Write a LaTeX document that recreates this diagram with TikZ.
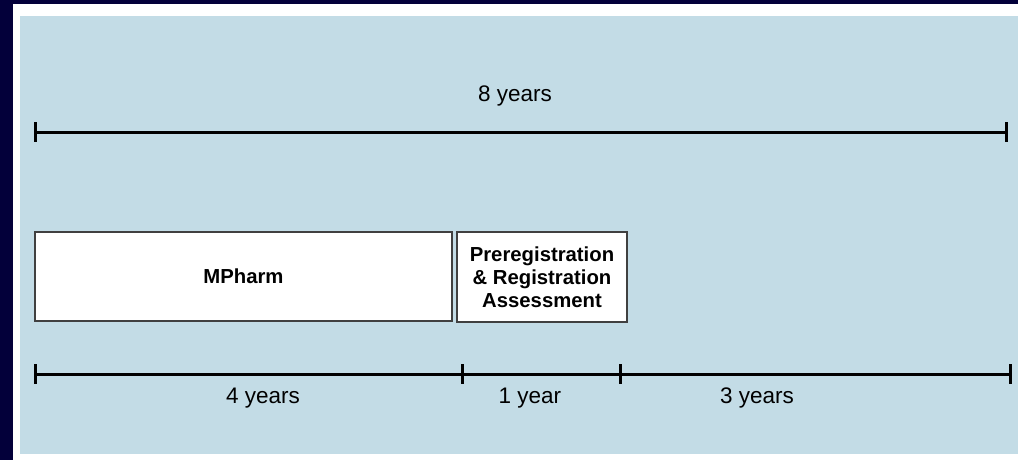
\documentclass[tikz,border=0pt]{standalone}
\usepackage{fontspec}
\setmainfont{Liberation Sans}
\definecolor{navy}{HTML}{03003A}
\definecolor{panel}{HTML}{C3DCE6}
\definecolor{boxline}{HTML}{404040}
\tikzset{
  stagebox/.style={draw=boxline, line width=1.2pt, fill=white, inner sep=0pt, align=center,
    font=\bfseries\fontsize{20.3}{23}\selectfont},
  yearlabel/.style={font=\fontsize{22.5}{25}\selectfont, inner sep=0pt},
  timeline/.style={line width=3pt, black},
}
\begin{document}
\begin{tikzpicture}[x=1pt,y=-1pt]
\useasboundingbox (0,0) rectangle (1018,460);
\fill[navy] (0,0) rectangle (1018,460);
\fill[white] (13,4) rectangle (1018,460);
\fill[panel] (20,16) rectangle (1018,454);

% top timeline
\coordinate (t0) at (35,132);
\coordinate (t1) at (1006,132);
\draw[timeline] (t0) -- (t1);
\foreach \c in {t0,t1} \draw[timeline] ([yshift=10pt]\c) -- ([yshift=-10pt]\c);
\node[yearlabel] (l8) at (515,96) {8 years};

% boxes
\node[stagebox, minimum width=417pt, minimum height=89pt] (mpharm) at (243.5,276.5) {MPharm};
\node[stagebox, minimum width=170pt, minimum height=90pt] (prereg) at (542,277) {Preregistration\\\& Registration\\Assessment};

% bottom timeline
\coordinate (b0) at (35,374);
\coordinate (b1) at (462,374);
\coordinate (b2) at (620,374);
\coordinate (b3) at (1010,374);
\draw[timeline] (b0) -- (b3);
\foreach \c in {b0,b1,b2,b3} \draw[timeline] ([yshift=10pt]\c) -- ([yshift=-10pt]\c);
\node[yearlabel] (l4) at (263,398) {4 years};
\node[yearlabel] (l1) at (530,398) {1 year};
\node[yearlabel] (l3) at (757,398) {3 years};
\end{tikzpicture}
\end{document}
